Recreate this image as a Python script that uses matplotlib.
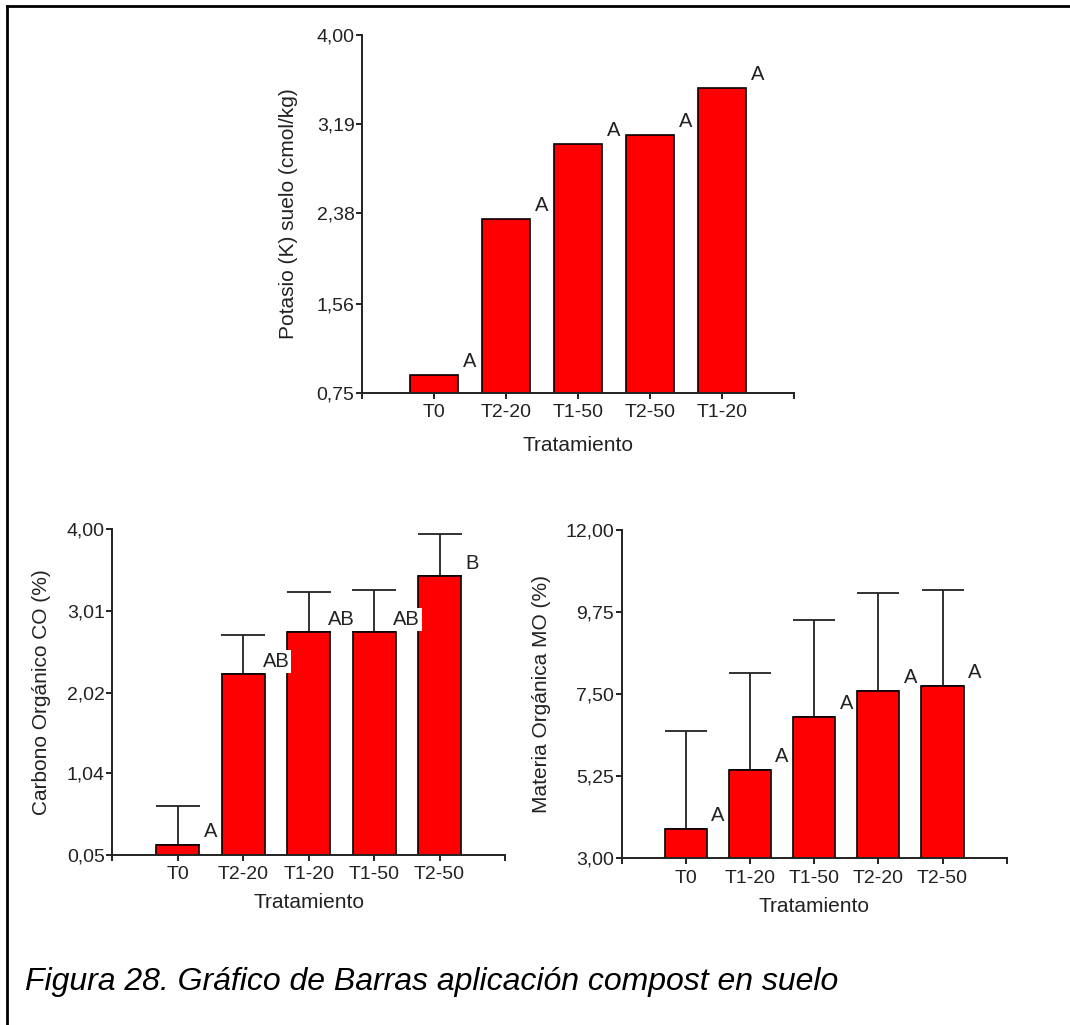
import matplotlib
matplotlib.use("Agg")
import matplotlib.pyplot as plt
from matplotlib.lines import Line2D

plt.rcParams['font.family'] = ['Liberation Sans', 'DejaVu Sans']

# ---------------- data ----------------
k_cats = ["T0", "T2-20", "T1-50", "T2-50", "T1-20"]
k_vals = [0.91, 2.33, 3.01, 3.09, 3.52]
k_letters = ["A", "A", "A", "A", "A"]
k_ticks = [0.75, 1.56, 2.38, 3.19, 4.00]

co_cats = ["T0", "T2-20", "T1-20", "T1-50", "T2-50"]
co_vals = [0.17, 2.24, 2.75, 2.75, 3.43]
co_err = [0.48, 0.48, 0.49, 0.51, 0.51]
co_letters = ["A", "AB", "AB", "AB", "B"]
co_ticks = [0.05, 1.04, 2.02, 3.01, 4.00]

mo_cats = ["T0", "T1-20", "T1-50", "T2-20", "T2-50"]
mo_vals = [3.80, 5.42, 6.88, 7.59, 7.72]
mo_err = [2.69, 2.65, 2.65, 2.68, 2.63]
mo_letters = ["A", "A", "A", "A", "A"]
mo_ticks = [3.00, 5.25, 7.50, 9.75, 12.00]

caption = "Figura 28. Gráfico de Barras aplicación compost en suelo"

# ---------------- figure ----------------
W, H = 1070, 1025
fig = plt.figure(figsize=(W / 100, H / 100), dpi=100)

BAR_W = 0.66
RED = "#FF0000"
DARK = "#222222"


def px_axes(l, t, r, b):
    return fig.add_axes([l / W, 1 - b / H, (r - l) / W, (b - t) / H])


def fmt(v):
    return f"{v:.2f}".replace(".", ",")


def draw(ax, cats, vals, letters, ticks, ylabel, lab_x, err=None, ax_w_px=None):
    n = len(cats)
    x = list(range(n))
    ax.bar(x, vals, width=BAR_W, color=RED, edgecolor="black", linewidth=1.2, zorder=2)
    if err is not None:
        cap_pt = 0.5 * BAR_W * (ax_w_px / (n + 1)) * 72 / 100
        ax.errorbar(x, vals, yerr=[[0] * n, err], fmt="none", ecolor=DARK,
                    elinewidth=1.3, capsize=cap_pt, capthick=1.3, zorder=1)
    for i, (v, s) in enumerate(zip(vals, letters)):
        ax.annotate(s, (i + 0.5, v), xytext=(0, 9.5), textcoords="offset points",
                    ha="center", va="center", fontsize=14.5, color=DARK, zorder=5,
                    bbox=dict(boxstyle="square,pad=0.1", fc="white", ec="none"))
    ax.set_xlim(-1, n)
    ax.set_ylim(ticks[0], ticks[-1])
    ax.set_yticks(ticks)
    ax.set_yticklabels([fmt(t) for t in ticks])
    ax.set_xticks(list(range(-1, n + 1)))
    ax.set_xticklabels([""] + cats + [""])
    for sp in ["top", "right"]:
        ax.spines[sp].set_visible(False)
    for sp in ["left", "bottom"]:
        ax.spines[sp].set_color(DARK)
        ax.spines[sp].set_linewidth(1.4)
    ax.tick_params(axis="both", direction="out", length=4.2, width=1.4, color=DARK,
                   labelsize=14, labelcolor=DARK)
    ax.tick_params(axis="y", pad=1.2)
    ax.tick_params(axis="x", pad=4)
    ax.set_ylabel(ylabel, fontsize=15, color=DARK, va="center")
    ax.yaxis.set_label_coords(lab_x, 0.5)
    ax.set_xlabel("Tratamiento", fontsize=15, color=DARK, va="center")
    ax.xaxis.set_label_coords(0.5, -0.147)


ax1 = px_axes(362, 35, 794, 392.7)
draw(ax1, k_cats, k_vals, k_letters, k_ticks, "Potasio (K) suelo (cmol/kg)", -0.17)

ax2 = px_axes(112.3, 529.3, 505, 855)
draw(ax2, co_cats, co_vals, co_letters, co_ticks, "Carbono Orgánico CO (%)", -0.18,
     err=co_err, ax_w_px=505 - 112.3)

ax3 = px_axes(621.5, 530, 1006.7, 858.3)
draw(ax3, mo_cats, mo_vals, mo_letters, mo_ticks, "Materia Orgánica MO (%)", -0.207,
     err=mo_err, ax_w_px=1006.7 - 621.5)

# frame border (left and top visible)
fig.add_artist(Line2D([7 / W, 7 / W], [0, 1 - 6 / H], transform=fig.transFigure,
                      color="black", linewidth=2.0, solid_capstyle="projecting"))
fig.add_artist(Line2D([7 / W, 1], [1 - 6 / H, 1 - 6 / H], transform=fig.transFigure,
                      color="black", linewidth=2.0, solid_capstyle="projecting"))

fig.text(25 / W, 1 - 982 / H, caption, fontsize=23, style="italic", color="black",
         ha="left", va="center")

fig.savefig("out.png", dpi=100)
